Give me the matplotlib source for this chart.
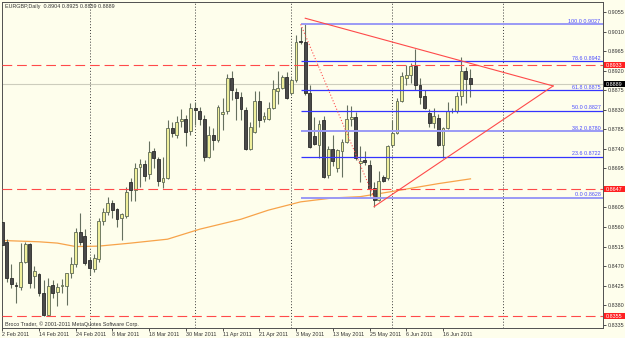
import matplotlib
matplotlib.use('Agg')
import matplotlib.pyplot as plt
import matplotlib.transforms as mtrans
from matplotlib.patches import Rectangle
import numpy as np
import pandas as pd

plt.rcParams['font.family'] = ['Liberation Sans', 'DejaVu Sans']
plt.rcParams['lines.scale_dashes'] = False

# daily EURGBP bars (2 Feb 2011 .. 24 Jun 2011)
opens = [0.8572, 0.8526, 0.8442, 0.8426, 0.8423, 0.8479, 0.8520, 0.8448, 0.8451, 0.8407,
         0.8357, 0.8426, 0.8410, 0.8424, 0.8424, 0.8453, 0.8475, 0.8548, 0.8540, 0.8484,
         0.8463, 0.8486, 0.8574, 0.8594, 0.8616, 0.8601, 0.8580, 0.8586, 0.8663, 0.8645,
         0.8698, 0.8705, 0.8682, 0.8735, 0.8717, 0.8664, 0.8674, 0.8787, 0.8772, 0.8804,
         0.8809, 0.8781, 0.8834, 0.8827, 0.8810, 0.8722, 0.8772, 0.8761, 0.8820, 0.8827,
         0.8903, 0.8872, 0.8860, 0.8829, 0.8740, 0.8779, 0.8850, 0.8808, 0.8810, 0.8834,
         0.8873, 0.8880, 0.8906, 0.8868, 0.8899, 0.8989, 0.8987, 0.8869, 0.8770, 0.8750,
         0.8807, 0.8680, 0.8739, 0.8695, 0.8736, 0.8757, 0.8808, 0.8814, 0.8708, 0.8714,
         0.8703, 0.8649, 0.8622, 0.8676, 0.8673, 0.8748, 0.8776, 0.8850, 0.8903, 0.8910,
         0.8932, 0.8888, 0.8861, 0.8822, 0.8799, 0.8811, 0.8749, 0.8787, 0.8827, 0.8827,
         0.8863, 0.8919, 0.8904]
highs = [0.8579, 0.8532, 0.8474, 0.8434, 0.8523, 0.8526, 0.8523, 0.8470, 0.8453, 0.8438,
         0.8442, 0.8438, 0.8430, 0.8440, 0.8455, 0.8490, 0.8558, 0.8593, 0.8555, 0.8492,
         0.8499, 0.8580, 0.8603, 0.8630, 0.8622, 0.8604, 0.8592, 0.8653, 0.8674, 0.8707,
         0.8717, 0.8714, 0.8758, 0.8741, 0.8722, 0.8722, 0.8807, 0.8803, 0.8816, 0.8832,
         0.8818, 0.8845, 0.8849, 0.8837, 0.8818, 0.8793, 0.8787, 0.8841, 0.8857, 0.8912,
         0.8919, 0.8880, 0.8871, 0.8837, 0.8802, 0.8873, 0.8873, 0.8825, 0.8848, 0.8898,
         0.8919, 0.8910, 0.8917, 0.8903, 0.9002, 0.9021, 0.9027, 0.8887, 0.8813, 0.8807,
         0.8816, 0.8747, 0.8772, 0.8740, 0.8762, 0.8840, 0.8838, 0.8825, 0.8747, 0.8735,
         0.8714, 0.8664, 0.8688, 0.8680, 0.8749, 0.8807, 0.8857, 0.8918, 0.8933, 0.8939,
         0.8971, 0.8903, 0.8876, 0.8831, 0.8834, 0.8820, 0.8791, 0.8848, 0.8835, 0.8872,
         0.8951, 0.8928, 0.8925]
lows = [0.8507, 0.8434, 0.8419, 0.8386, 0.8415, 0.8477, 0.8419, 0.8419, 0.8400, 0.8355,
        0.8356, 0.8396, 0.8379, 0.8407, 0.8380, 0.8442, 0.8469, 0.8519, 0.8473, 0.8450,
        0.8457, 0.8480, 0.8565, 0.8588, 0.8580, 0.8561, 0.8530, 0.8580, 0.8621, 0.8621,
        0.8653, 0.8666, 0.8671, 0.8695, 0.8655, 0.8651, 0.8671, 0.8768, 0.8764, 0.8791,
        0.8747, 0.8772, 0.8795, 0.8795, 0.8711, 0.8718, 0.8738, 0.8755, 0.8784, 0.8820,
        0.8853, 0.8807, 0.8806, 0.8737, 0.8737, 0.8777, 0.8790, 0.8802, 0.8806, 0.8833,
        0.8844, 0.8877, 0.8854, 0.8864, 0.8895, 0.8982, 0.8864, 0.8741, 0.8749, 0.8719,
        0.8674, 0.8674, 0.8701, 0.8687, 0.8676, 0.8754, 0.8792, 0.8715, 0.8663, 0.8703,
        0.8632, 0.8607, 0.8620, 0.8664, 0.8668, 0.8744, 0.8774, 0.8848, 0.8887, 0.8891,
        0.8876, 0.8843, 0.8832, 0.8791, 0.8787, 0.8747, 0.8718, 0.8786, 0.8823, 0.8822,
        0.8841, 0.8845, 0.8859]
closes = [0.8519, 0.8442, 0.8428, 0.8425, 0.8479, 0.8520, 0.8430, 0.8459, 0.8407, 0.8357,
          0.8425, 0.8409, 0.8421, 0.8426, 0.8453, 0.8475, 0.8549, 0.8526, 0.8477, 0.8465,
          0.8488, 0.8574, 0.8594, 0.8616, 0.8599, 0.8578, 0.8589, 0.8641, 0.8645, 0.8697,
          0.8705, 0.8678, 0.8732, 0.8718, 0.8666, 0.8674, 0.8789, 0.8777, 0.8803, 0.8810,
          0.8780, 0.8834, 0.8830, 0.8810, 0.8722, 0.8772, 0.8761, 0.8836, 0.8826, 0.8903,
          0.8876, 0.8858, 0.8833, 0.8739, 0.8790, 0.8850, 0.8806, 0.8816, 0.8834, 0.8879,
          0.8880, 0.8906, 0.8857, 0.8899, 0.8987, 0.8986, 0.8869, 0.8744, 0.8751, 0.8798,
          0.8676, 0.8739, 0.8711, 0.8738, 0.8757, 0.8808, 0.8814, 0.8719, 0.8713, 0.8709,
          0.8649, 0.8622, 0.8667, 0.8666, 0.8747, 0.8777, 0.8850, 0.8907, 0.8910, 0.8930,
          0.8888, 0.8860, 0.8835, 0.8800, 0.8816, 0.8749, 0.8787, 0.8828, 0.8828, 0.8863,
          0.8920, 0.8901, 0.8889]
dates = pd.bdate_range('2011-02-02', periods=len(opens))

# moving average, read at a few bars
ma_bars = [0, 8, 12, 16, 21, 28, 36, 43, 52, 58, 65, 72, 78, 85, 95, 102]
ma_vals = [0.8529, 0.8526, 0.8523, 0.8515, 0.8516, 0.8523, 0.8532, 0.8555,
           0.8578, 0.8599, 0.8618, 0.8627, 0.8630, 0.8642, 0.8660, 0.8671]

# chart objects
red_levels = [0.8933, 0.8647, 0.8355]
fib_high, fib_low = 0.9027, 0.8628
fib_bars = [65, 81]
fib_ratios = [0.0, 23.6, 38.2, 50.0, 61.8, 78.6, 100.0]
tri_top_bars, tri_top_prices = [66, 120], [0.9041, 0.8885]
tri_bot_bars, tri_bot_prices = [81, 120], [0.8607, 0.8885]
separator_bars = [19, 42, 63, 85, 109]
price_ticks = np.round(np.arange(0.8335, 0.9056, 0.0045), 4)
hidden_tick = 0.8650   # sits under the 0.8647 box

title = 'EURGBP,Daily  0.8904 0.8925 0.8859 0.8889'
footer = 'Broco Trader, \u00a9 2001-2011 MetaQuotes Software Corp.'

BG = '#fefeec'
FS = 3.9
fig = plt.figure(figsize=(6.25, 3.38), dpi=100, facecolor=BG)
ax = fig.add_axes([2/625, 10/338, 601/625, 326/338], facecolor=BG)
XMAX = 130.87
ax.set_xlim(-0.065, XMAX)
ax.set_ylim(0.83274, 0.90784)

# period separators and bid line
for b in separator_bars:
    ax.axvline(b, color='#3a3a3a', lw=0.7, ls=(0, (0.7, 1.4)), zorder=1)
ax.axhline(closes[-1], color='#cdcdbd', lw=0.8, zorder=1.5)

ax.plot(ma_bars, ma_vals, color='#f7a34a', lw=0.9, zorder=2)

# candles
x = np.arange(len(opens))
o = np.array(opens)
c = np.array(closes)
up = c >= o
ax.vlines(x, lows, highs, color='#66705f', lw=0.8, zorder=3)
body_low = np.minimum(o, c)
body_h = np.maximum(np.abs(c - o), 0.00006)
ax.bar(x[up], body_h[up], 0.62, bottom=body_low[up], color='#efef9c',
       edgecolor='#5e6a55', lw=0.6, zorder=4)
ax.bar(x[~up], body_h[~up], 0.62, bottom=body_low[~up], color='#4a4a4a',
       edgecolor='#2a2a2a', lw=0.6, zorder=4)

# horizontal red levels
for lvl in red_levels:
    ax.axhline(lvl, color='#ff4a4a', lw=0.8, dashes=(7, 3.5), zorder=5)

tr = mtrans.blended_transform_factory(ax.transAxes, ax.transData)

# fibonacci
for r in fib_ratios:
    lvl = fib_low + r / 100 * (fib_high - fib_low)
    light = r in (0.0, 38.2, 100.0)
    ax.hlines(lvl, fib_bars[0], XMAX, color='#9a9af6' if light else '#3434ff',
              lw=1.4 if light else 0.9, zorder=5)
    ax.text(0.996, lvl + 0.0001, f'{r:.1f} {lvl:.4f}', transform=tr,
            ha='right', va='bottom', fontsize=FS, color='#4a4aff', zorder=6)
ax.plot(fib_bars, [fib_high, fib_low], color='#ff5050', lw=0.8, ls=(0, (0.8, 1.4)), zorder=5)

# triangle
ax.plot(tri_top_bars, tri_top_prices, color='#ff4a4a', lw=0.8, zorder=5)
ax.plot(tri_bot_bars, tri_bot_prices, color='#ff4a4a', lw=0.8, zorder=5)

# axes styling
for s in ax.spines.values():
    s.set_color('#505050')
    s.set_linewidth(0.7)
ax.yaxis.tick_right()
ax.set_yticks(price_ticks)
ax.set_yticklabels(['' if abs(v - hidden_tick) < 1e-6 else f'{v:.4f}' for v in price_ticks])
ax.tick_params(axis='y', direction='out', length=2.2, width=0.6, pad=1.2,
               labelsize=FS, colors='#333333')
ax.set_xticks(x[::8])
ax.set_xticklabels([f'{d.day} {d:%b %Y}' for d in dates[::8]])
ax.tick_params(axis='x', direction='out', length=2.2, width=0.6, pad=0.8,
               labelsize=FS, colors='#333333')
plt.setp(ax.get_xticklabels(), ha='left')

# price boxes on the right scale
for lvl, col in [(v, '#ff2020') for v in red_levels] + [(closes[-1], '#000000')]:
    ax.add_patch(Rectangle((1 + 1/601, lvl - 0.00065), 21/601, 0.0013, transform=tr,
                           facecolor=col, edgecolor='none', clip_on=False, zorder=10))
    ax.text(1 + 3/601, lvl, f'{lvl:.4f}', transform=tr, ha='left', va='center',
            fontsize=FS, color='white', clip_on=False, zorder=11)

fig.text(5/625, 1 - 6.5/338, title, fontsize=FS, va='center', color='#333333')
fig.text(5/625, 1 - 324/338, footer, fontsize=FS, va='center', color='#333333')

fig.savefig('out.png', dpi=100, facecolor=BG)
